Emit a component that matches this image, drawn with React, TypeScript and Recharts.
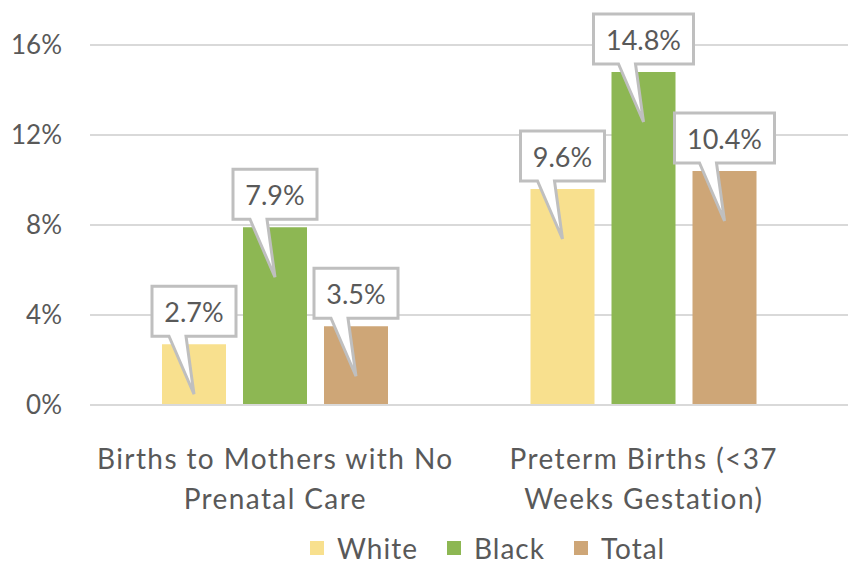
import React from "react";
import { BarChart, Bar, XAxis, YAxis, CartesianGrid, LabelList, Legend } from "recharts";

const categories = ["Births to Mothers with No\nPrenatal Care", "Preterm Births (<37\nWeeks Gestation)"];
const whiteValues = [2.7, 9.6];
const blackValues = [7.9, 14.8];
const totalValues = [3.5, 10.4];
const yTicks = [0, 4, 8, 12, 16];
const seriesNames = ["White", "Black", "Total"];
const seriesColors = ["#F8E08E", "#8DB753", "#CEA677"];

const data = categories.map((c, i) => ({
  name: c,
  White: whiteValues[i],
  Black: blackValues[i],
  Total: totalValues[i],
}));

const FONT = "Lato, 'Open Sans', sans-serif";
const TEXT = "#595959";

const Callout = (props: any) => {
  const { x, y, width, value } = props;
  const cx = x + width / 2;
  const top = y;
  const label = `${Number(value).toFixed(1)}%`;
  const boxW = label.length >= 5 ? 100 : 84;
  const boxH = 50;
  const bottom = top - 8;
  const boxTop = bottom - boxH;
  const left = cx - boxW / 2;
  const right = cx + boxW / 2;
  const d = `M${left},${boxTop} L${right},${boxTop} L${right},${bottom} L${cx - 8},${bottom} L${cx},${top + 50} L${cx - 25},${bottom} L${left},${bottom} Z`;
  return (
    <g>
      <path d={d} fill="#ffffff" stroke="#BFBFBF" strokeWidth={3} strokeLinejoin="miter" />
      <text x={cx} y={boxTop + boxH / 2} textAnchor="middle" dominantBaseline="central" fill={TEXT} fontSize={27} fontFamily={FONT}>
        {label}
      </text>
    </g>
  );
};

const CatTick = (props: any) => {
  const { x, y, payload } = props;
  const lines = String(payload.value).split("\n");
  return (
    <g transform={`translate(${x},${y})`}>
      {lines.map((l, i) => (
        <text key={i} x={0} y={56 + i * 40} textAnchor="middle" fill={TEXT} fontSize={28} letterSpacing={1.4} fontFamily={FONT}>
          {l}
        </text>
      ))}
    </g>
  );
};

const LegendContent = () => (
  <div style={{ display: "flex", justifyContent: "flex-start", alignItems: "center", fontFamily: FONT, fontSize: 28, letterSpacing: 1, color: TEXT, height: 34, lineHeight: "34px", paddingLeft: 310 }}>
    {seriesNames.map((n, i) => (
      <div key={n} style={{ display: "flex", alignItems: "center", marginRight: i < 2 ? 29 : 0 }}>
        <span style={{ display: "inline-block", width: 14, height: 14, background: seriesColors[i], marginRight: 13 }} />
        <span>{n}</span>
      </div>
    ))}
  </div>
);

export default function App() {
  return (
    <div style={{ position: "absolute", left: 0, top: 0, width: 848, height: 565, background: "#fff", overflow: "hidden" }}>
      <BarChart width={848} height={565} data={data} margin={{ top: 45, right: 0, left: 0, bottom: 26 }} barSize={64} barGap={17}>
        <CartesianGrid horizontal vertical={false} stroke="#D9D9D9" strokeWidth={2} />
        <XAxis dataKey="name" tick={<CatTick />} tickLine={false} axisLine={{ stroke: "#D9D9D9", strokeWidth: 2 }} height={100} interval={0} padding={{ left: 1, right: 20 }} />
        <YAxis domain={[0, 16]} ticks={yTicks} tickFormatter={(v: number) => `${v}%`} width={90} axisLine={false} tickLine={false} tickSize={0} tickMargin={28} tick={{ fill: TEXT, fontSize: 26, fontFamily: FONT }} />
        <Legend verticalAlign="bottom" content={<LegendContent />} wrapperStyle={{ position: "absolute", top: 531, left: 0, width: 848, height: 34 }} />
        {seriesNames.map((n, i) => (
          <Bar key={n} dataKey={n} fill={seriesColors[i]} isAnimationActive={false}>
            <LabelList dataKey={n} content={<Callout />} />
          </Bar>
        ))}
      </BarChart>
    </div>
  );
}
